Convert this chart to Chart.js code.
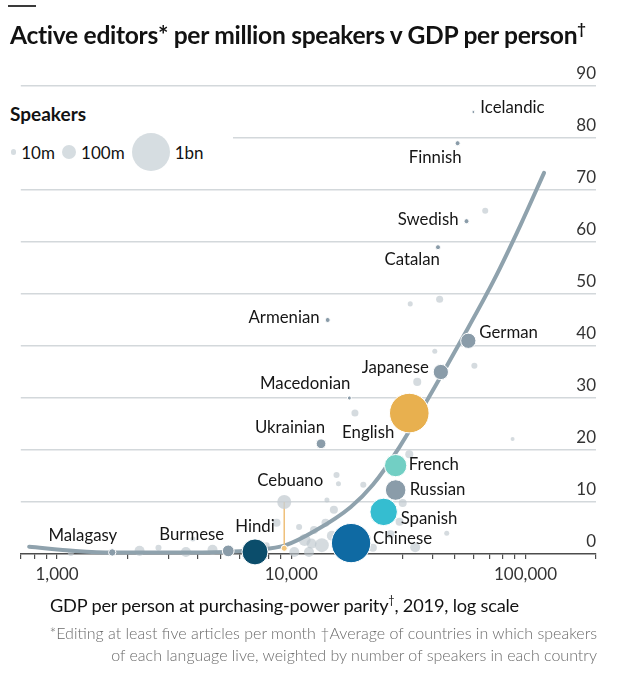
<!DOCTYPE html>
<html>
<head>
<meta charset="utf-8">
<script src="https://cdn.jsdelivr.net/npm/chart.js@4.4.0/dist/chart.umd.min.js"></script>
<style>
  body { margin: 0; background: #fff; }
  #wrap { position: relative; width: 619px; height: 680px; font-family: Lato, "Noto Sans", sans-serif; color: #121212; overflow: hidden; }
  #chart { position: absolute; left: 0; top: 0; }
  .rule { position: absolute; left: 8px; top: 5px; width: 28px; height: 2px; background: #3a3a3a; }
  h1 { position: absolute; left: 10px; top: 20px; margin: 0; font-size: 24.6px; font-weight: 700; white-space: nowrap; letter-spacing: -0.3px; }
  h1 sup, .xtitle sup { font-size: 60%; vertical-align: 0.7em; line-height: 0; }
  #legend { position: absolute; left: 10px; top: 96px; width: 223px; height: 78px; background: #fff; }
  #legend .head { position: absolute; left: 0; top: 6px; font-size: 19px; font-weight: 700; }
  #legend .row { position: absolute; left: 1px; top: 56px; display: flex; align-items: center; height: 0; font-size: 17px; }
  #legend .dot { display: inline-block; border-radius: 50%; background: #d6dde1; margin-right: 5px; flex: none; }
  #legend .txt { margin-right: 7px; }
  .xtitle { position: absolute; left: 50px; top: 594px; font-size: 18.2px; letter-spacing: -0.2px; white-space: nowrap; }
  .note { position: absolute; right: 22px; top: 622px; font-size: 16px; line-height: 22px; color: #6b6b6b; text-align: right; white-space: nowrap; font-weight: 300; }
</style>
</head>
<body>
<div id="wrap">
  <canvas id="chart" width="619" height="680"></canvas>
  <div class="rule"></div>
  <h1>Active editors* per million speakers v GDP per person<sup>†</sup></h1>
  <div id="legend">
    <div class="head">Speakers</div>
    <div class="row" id="legendRow"></div>
  </div>
  <div class="xtitle">GDP per person at purchasing-power parity<sup>†</sup>, 2019, log scale</div>
  <div class="note">*Editing at least five articles per month †Average of countries in which speakers<br>of each language live, weighted by number of speakers in each country</div>
</div>
<script>
// labelled languages
var langNames = ['Icelandic', 'Finnish', 'Swedish', 'Catalan', 'Armenian', 'German', 'Japanese', 'Macedonian', 'English',
                 'Ukrainian', 'French', 'Russian', 'Spanish', 'Chinese', 'Hindi', 'Burmese', 'Malagasy', 'Cebuano'];
var langGdp = [59900, 51300, 56000, 42300, 14300, 57000, 43500, 17700, 31900,
               13400, 27900, 27900, 24800, 18000, 7000, 5380, 1720, 9330];
var langEditors = [85, 79, 64, 59, 45, 41, 35, 30, 27.1,
                   21.2, 17, 12.3, 8.1, 2.1, 0.4, 0.6, 0.3, 10];
var langSpeakers = [2.7, 9, 9, 9, 9, 120, 120, 5.3, 1100,
                    42, 290, 240, 470, 1080, 413, 65, 22, 98];

// Cebuano's second reading, joined by a thin line
var cebuanoGdp = [9330, 9330];
var cebuanoEditors = [1.1, 10];
var cebuanoSpeakers = [14];

// other languages (unlabelled)
var otherGdp = [43000, 32200, 41000, 60500, 34500, 18700, 88100, 67300, 31900, 15600,
                15900, 20300, 29900, 14200, 15200, 46100, 33800, 29000, 11400, 12500,
                13500, 14900, 16100, 11900, 14000, 2250, 2710, 3550, 3800, 4610,
                8650, 1145, 22300, 10300, 10800, 7850, 18000, 12200, 21000, 26500];
var otherEditors = [49, 48.1, 39, 36.2, 33.1, 27.1, 22.1, 66, 19.2, 15.2,
                    13.5, 13.3, 9.8, 10.4, 8.5, 4, 1.3, 6.2, 2.7, 4.6,
                    1.7, 3.5, 1.2, 0.4, 6, 0.6, 1.2, 0.4, 2.9, 0.8,
                    6, 0.2, 1.2, 0.4, 5.2, 1.7, 1, 2, 3, 3.8];
var otherSpeakers = [20, 9, 9, 14, 27, 20, 5.3, 14, 27, 14,
                     9, 14, 27, 9, 27, 9, 45, 27, 68, 27,
                     98, 45, 68, 45, 27, 45, 14, 45, 9, 45,
                     27, 14, 27, 45, 14, 14, 68, 45, 27, 27];

// fitted trend
var trendGdp = [760, 1200, 1720, 3000, 5300, 7000, 9350, 12800, 17900, 22300, 29000, 39900, 53300, 73400, 95300, 120000];
var trendEditors = [1.4, 0.6, 0.3, 0.3, 0.4, 0.8, 1.6, 4.6, 9.0, 13.3, 20.6, 31.2, 41.2, 52.7, 63.3, 73.3];

var legendSpeakers = [10, 100, 1000];
var legendLabels = ['10m', '100m', '1bn'];

var xTickValues = [700, 800, 900, 1000, 2000, 3000, 4000, 5000, 6000, 7000, 8000, 9000,
                   10000, 20000, 30000, 40000, 50000, 60000, 70000, 80000, 90000, 100000, 200000];
var xLabelled = [1000, 10000, 100000];
var yTicks = [0, 10, 20, 30, 40, 50, 60, 70, 80, 90];

var langColours = {
  English: '#e8b04f', French: '#72cfc4', Spanish: '#35bdd0', Chinese: '#0f6aa3',
  Hindi: '#0b4d6b', Cebuano: 'rgba(200,208,213,0.8)'
};
var greyBlue = '#8a9ca9';

// label offsets from bubble centre: dx, dy, align
var labelPlace = {
  Icelandic: [7, -4, 'left'], Finnish: [4, 14, 'right'], Swedish: [-8, -2, 'right'],
  Catalan: [2, 12, 'right'], Armenian: [-8, -2, 'right'], German: [11, -8, 'left'],
  Japanese: [-12, -4, 'right'], Macedonian: [1, -14, 'right'], English: [-15, 20, 'right'],
  Ukrainian: [4, -16, 'right'], French: [13, -1, 'left'], Russian: [14, 0, 'left'],
  Spanish: [17, 7, 'left'], Chinese: [22, -4, 'left'], Hindi: [0, -25, 'center'],
  Burmese: [-4, -16, 'right'], Malagasy: [5, -17, 'right'], Cebuano: [6, -21, 'center']
};

function radius(millions) {
  return 19 * Math.pow(millions / 1000, 0.43);
}

function points(xs, ys, sizes) {
  return xs.map(function (v, i) {
    var p = { x: v, y: ys[i] };
    if (sizes) p.r = radius(sizes[i]);
    return p;
  });
}

// legend row
var row = document.getElementById('legendRow');
legendSpeakers.forEach(function (s, i) {
  var d = document.createElement('span');
  var r = radius(s);
  d.className = 'dot';
  d.style.width = d.style.height = (2 * r) + 'px';
  row.appendChild(d);
  var t = document.createElement('span');
  t.className = 'txt';
  t.textContent = legendLabels[i];
  row.appendChild(t);
});

var labelPlugin = {
  id: 'langLabels',
  afterDatasetsDraw: function (chart) {
    var ctx = chart.ctx, x = chart.scales.x, y = chart.scales.y;
    ctx.save();
    ctx.font = '16.8px Lato';
    ctx.fillStyle = '#161616';
    ctx.textBaseline = 'middle';
    langNames.forEach(function (name, i) {
      var p = labelPlace[name];
      if (!p) return;
      ctx.textAlign = p[2];
      ctx.fillText(name, x.getPixelForValue(langGdp[i]) + p[0], y.getPixelForValue(langEditors[i]) + p[1]);
    });
    ctx.restore();
  }
};

var ctx = document.getElementById('chart').getContext('2d');
var chart = new Chart(ctx, {
  type: 'bubble',
  data: {
    datasets: [{
      label: 'Languages',
      data: points(langGdp, langEditors, langSpeakers),
      backgroundColor: langNames.map(function (n) { return langColours[n] || greyBlue; }),
      borderColor: langNames.map(function (n) { return n === 'Cebuano' ? 'rgba(0,0,0,0)' : '#fff'; }),
      borderWidth: 1,
      clip: false,
      order: 0
    }, {
      label: 'Cebuano dot',
      data: points(cebuanoGdp.slice(0, 1), cebuanoEditors.slice(0, 1), cebuanoSpeakers),
      backgroundColor: '#f2c57c',
      borderColor: '#fff',
      borderWidth: 1,
      clip: false,
      order: 1
    }, {
      type: 'line',
      label: 'Cebuano link',
      data: points(cebuanoGdp, cebuanoEditors),
      borderColor: '#efc07a',
      borderWidth: 1.5,
      pointRadius: 0,
      order: 2
    }, {
      type: 'line',
      label: 'Trend',
      data: points(trendGdp, trendEditors),
      borderColor: '#8fa2ad',
      borderWidth: 4,
      pointRadius: 0,
      cubicInterpolationMode: 'monotone',
      borderCapStyle: 'round',
      clip: false,
      order: 3
    }, {
      label: 'Other languages',
      data: points(otherGdp, otherEditors, otherSpeakers),
      backgroundColor: 'rgba(188,197,204,0.62)',
      borderWidth: 0,
      clip: false,
      order: 4
    }]
  },
  options: {
    responsive: false,
    animation: false,
    events: [],
    layout: { padding: { top: 86, left: 10, right: 23, bottom: 86 } },
    plugins: { legend: { display: false }, tooltip: { enabled: false } },
    scales: {
      x: {
        type: 'logarithmic',
        min: 700,
        max: 200000,
        afterBuildTicks: function (axis) {
          axis.ticks = xTickValues.map(function (v) { return { value: v }; });
        },
        afterFit: function (axis) { axis.height = 40; },
        border: { display: true, color: '#4d4d4d', width: 1.5 },
        grid: { drawOnChartArea: false, drawTicks: true, tickLength: 5, color: '#4d4d4d', lineWidth: 1.2 },
        ticks: {
          autoSkip: false,
          maxRotation: 0,
          padding: 5,
          color: '#333',
          font: { family: 'Lato', size: 17 },
          callback: function (v) {
            return xLabelled.indexOf(v) >= 0 ? v.toLocaleString('en-US') : '';
          }
        }
      },
      y: {
        position: 'right',
        min: 0,
        max: 90,
        afterBuildTicks: function (axis) {
          axis.ticks = yTicks.map(function (v) { return { value: v }; });
        },
        afterFit: function (axis) { axis.width = 0; },
        border: { display: false },
        grid: {
          drawTicks: false,
          color: function (c) { return c.tick && c.tick.value === 0 ? 'rgba(0,0,0,0)' : '#d3d8db'; },
          lineWidth: 1.5
        },
        ticks: {
          mirror: true,
          padding: 0,
          labelOffset: -12,
          color: '#333',
          font: { family: 'Lato', size: 17 }
        }
      }
    }
  },
  plugins: [labelPlugin]
});
</script>
</body>
</html>
